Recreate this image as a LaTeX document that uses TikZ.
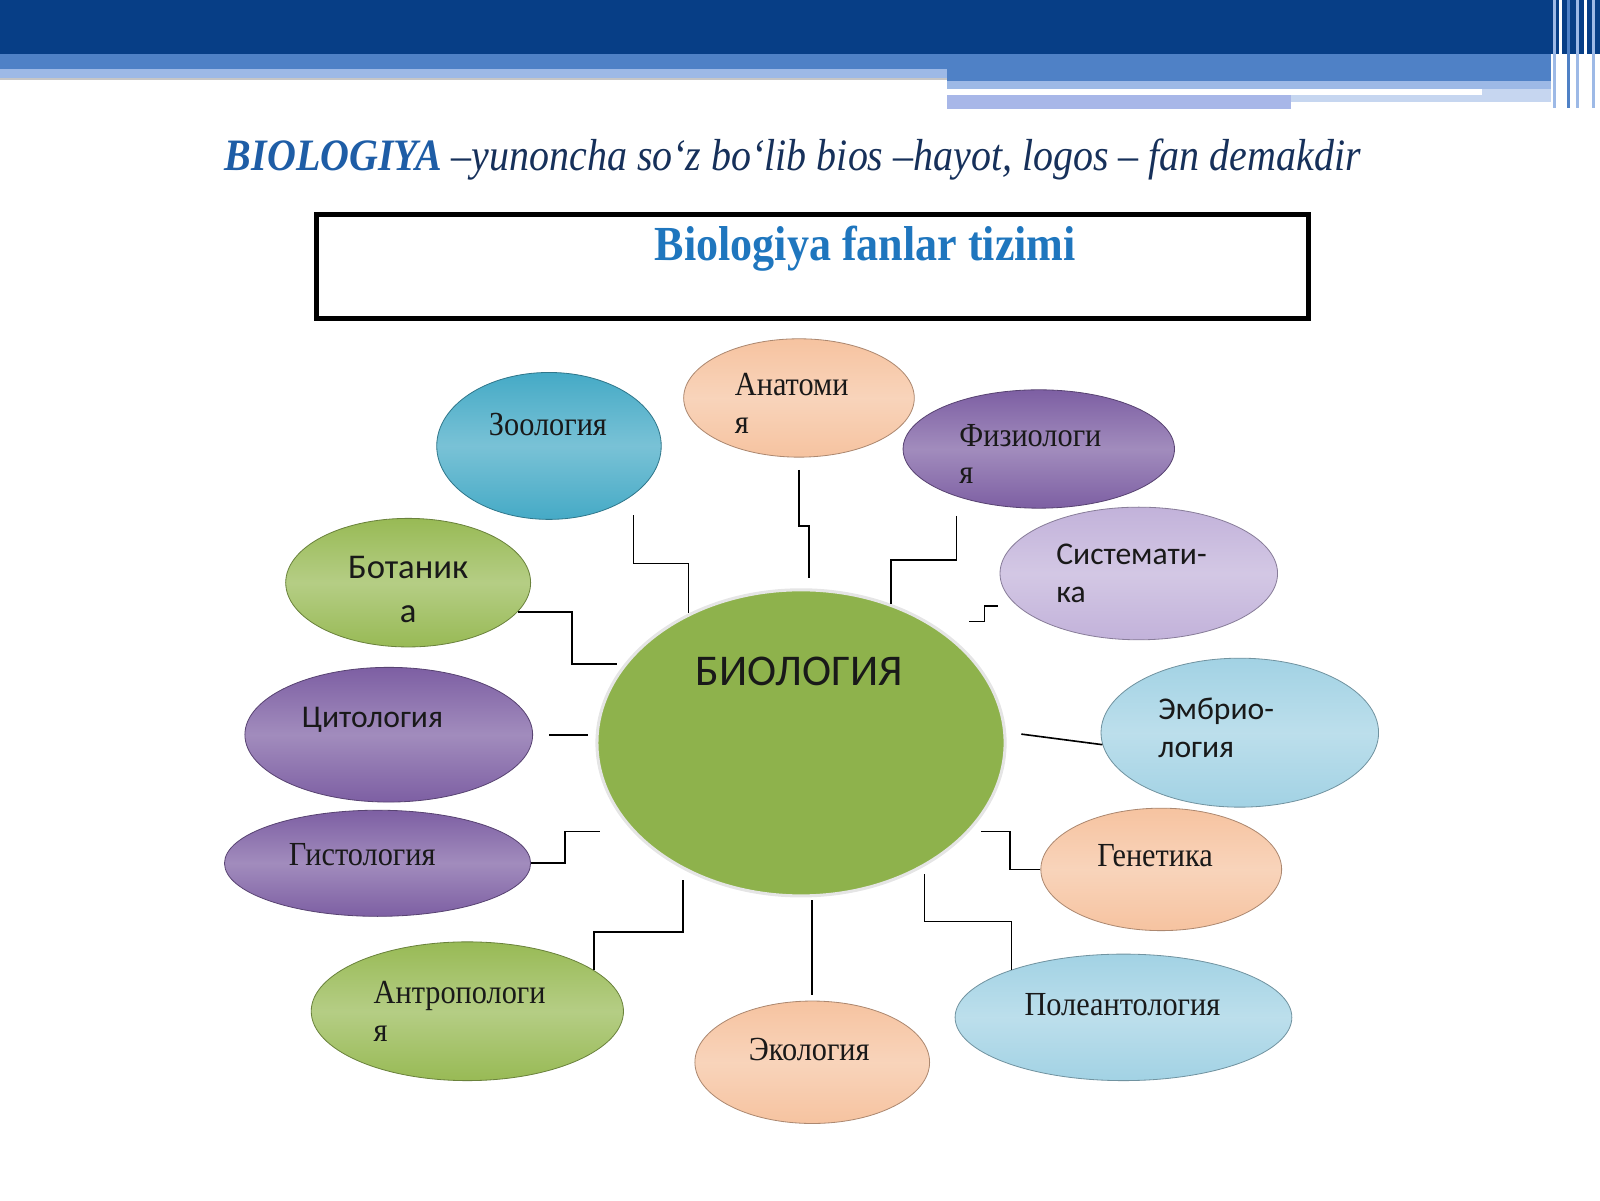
\documentclass[tikz,border=0pt]{standalone}
\usepackage{fontspec}
\setmainfont{Liberation Serif}
\newfontfamily\nserif[FakeStretch=0.9]{Liberation Serif}
\newfontfamily\tserif[FakeStretch=0.89]{Liberation Serif}
\newfontfamily\csans{Carlito}
\usetikzlibrary{shapes.geometric,calc}
\definecolor{hdrdark}{HTML}{073E86}
\definecolor{hdrmid}{HTML}{4F81C6}
\definecolor{hdrlight}{HTML}{9DB9E6}
\definecolor{hdrpale}{HTML}{C6D6F0}
\definecolor{hdrlav}{HTML}{A8B7E8}
\definecolor{czoo}{HTML}{45AAC6}
\definecolor{cpeach}{HTML}{F6C3A0}
\definecolor{cpurple}{HTML}{7D5FA3}
\definecolor{clav}{HTML}{C2B2DA}
\definecolor{cgreen}{HTML}{98BA55}
\definecolor{csky}{HTML}{A2D2E4}
\definecolor{cbio}{HTML}{8EB24C}
\definecolor{ctitle}{HTML}{1F76BE}
\definecolor{chead}{HTML}{16305A}
\definecolor{cheadb}{HTML}{1E5DA6}
\begin{document}
\begin{tikzpicture}[x=1pt,y=-1pt,
  bubble/.style n args={3}{ellipse, inner sep=0pt, minimum width=#1, minimum height=#2,
    top color=#3, bottom color=#3, middle color=#3!72!white, draw=#3!70!black, line width=0.8pt},
  rm/.style={font=\nserif\fontsize{33}{37}\selectfont, text=black!90, inner sep=0pt},
  sf/.style={font=\csans\fontsize{31}{37}\selectfont, text=black!90, inner sep=0pt},
  link/.style={draw=black, line width=1.6pt}]
\useasboundingbox (0,0) rectangle (1568,1176);
% header bands
\fill[hdrdark] (0,0) rectangle (1568,53);
\fill[hdrmid] (0,53) rectangle (928,68);
\fill[hdrlight] (0,68) rectangle (928,76);
\fill[gray!45] (0,76) rectangle (928,78);
\fill[hdrmid] (928,53) rectangle (1520,79);
\fill[hdrlight] (928,79) rectangle (1520,87);
\fill[hdrpale] (1452,87) rectangle (1520,93);
\fill[hdrlav] (928,93) rectangle (1265,107);
\fill[hdrpale] (1265,93) rectangle (1520,100);
\foreach \x/\c in {1522/hdrlight,1528/white,1536/hdrmid,1544/hdrlight,1552/white,1560/hdrlight}
  \fill[\c] (\x,0) rectangle ++(3,106);
% titles
\node[font=\tserif\itshape\fontsize{44}{50}\selectfont, text=chead, anchor=base, inner sep=0pt] (head) at (777,167)
  {\textbf{\color{cheadb}BIOLOGIYA} –yunoncha so‘z bo‘lib bios –hayot, logos – fan demakdir};
\node[draw, line width=5pt, minimum width=972pt, minimum height=102pt, inner sep=0pt] (frame) at (796,261) {};
\node[font=\nserif\bfseries\fontsize{48}{52}\selectfont, text=ctitle, anchor=base, inner sep=0pt] (framet) at (848,255)
  {Biologiya fanlar tizimi};
% bubbles
\node[bubble={220pt}{144pt}{czoo}] (zoo) at (538,437) {};
\node[bubble={226pt}{116pt}{cpeach}] (ana) at (783,390) {};
\node[bubble={266pt}{116pt}{cpurple}] (fiz) at (1018,440) {};
\node[bubble={272pt}{130pt}{clav}] (sys) at (1116,562) {};
\node[bubble={240pt}{126pt}{cgreen}] (bot) at (400,571) {};
\node[bubble={282pt}{132pt}{cpurple}] (cyt) at (381,720) {};
\node[bubble={300pt}{104pt}{cpurple}] (his) at (370,846) {};
\node[bubble={272pt}{146pt}{csky}] (emb) at (1215,718) {};
\node[bubble={236pt}{120pt}{cpeach}] (gen) at (1138,852) {};
\node[bubble={306pt}{136pt}{cgreen}] (ant) at (458,991) {};
\node[bubble={230pt}{120pt}{cpeach}] (eco) at (796,1041) {};
\node[bubble={330pt}{124pt}{csky}] (pol) at (1101,997) {};
\node[ellipse, minimum width=400pt, minimum height=300pt, fill=cbio, draw=gray!20, line width=3pt] (bio) at (785,728) {};
% links
\draw[link, shorten <=20pt] (zoo.-30) |- ([yshift=49pt]bio.131) -- (bio.131);
\draw[link, shorten <=12pt, shorten >=10pt] (ana.south) -- ++(0,67) -| ([xshift=8pt]bio.north);
\draw[link, shorten <=19pt] (fiz.210) |- ([yshift=43pt]bio.57) -- (bio.57);
\draw[link, shorten <=19pt] (sys.195) -| ++(-32,15) -- ++(-15,0);
\draw[link, shorten >=7pt] (bot.-15) -| ([xshift=-51pt]bio.156) -- (bio.156);
\draw[link, shorten <=16pt, shorten >=7pt] (cyt.east) -- (cyt.east -| bio.west);
\draw[link] (his.east) -| ++(33,-31) -- ++(35,0);
\draw[link, shorten <=15pt] (bio.3) -- (emb.185);
\draw[link] (gen.west) -| ++(-30,-37) -- ++(-28,0);
\draw[link, shorten >=7pt] (pol.157) |- ([yshift=-54pt]bio.-45) -- (bio.-45);
\draw[link, shorten <=6pt, shorten >=2pt] (eco.north) -- (eco.north |- bio.south);
\draw[link, shorten >=10pt] (ant.18) |- ([yshift=-61pt]bio.-133) -- (bio.-133);
% labels
\node[font=\csans\fontsize{43}{48}\selectfont, text=black!90, anchor=base, inner sep=0pt] (biot) at (783,672) {БИОЛОГИЯ};
\node[rm, anchor=base] (zoot) at (537,427) {Зоология};
\node[rm, align=left, anchor=west] (anat) at (720,395) {Анатоми\\я};
\node[rm, align=left, anchor=west] (fizt) at (940,445) {Физиологи\\я};
\node[sf, align=left, anchor=west] (syst) at (1035,562) {Системати-\\ка};
\node[sf, font=\csans\fontsize{34}{43}\selectfont, align=center] (bott) at (400,578) {Ботаник\\а};
\node[sf, anchor=base] (cytt) at (365,713) {Цитология};
\node[rm, anchor=base] (hist) at (355,848) {Гистология};
\node[sf, align=left, anchor=west] (embt) at (1135,713) {Эмбрио-\\логия};
\node[rm, anchor=base] (gent) at (1132,849) {Генетика};
\node[rm, align=left, anchor=west] (antt) at (366,991) {Антропологи\\я};
\node[rm, anchor=base] (ecot) at (793,1039) {Экология};
\node[rm, anchor=base] (polt) at (1100,995) {Полеантология};
\end{tikzpicture}
\end{document}
